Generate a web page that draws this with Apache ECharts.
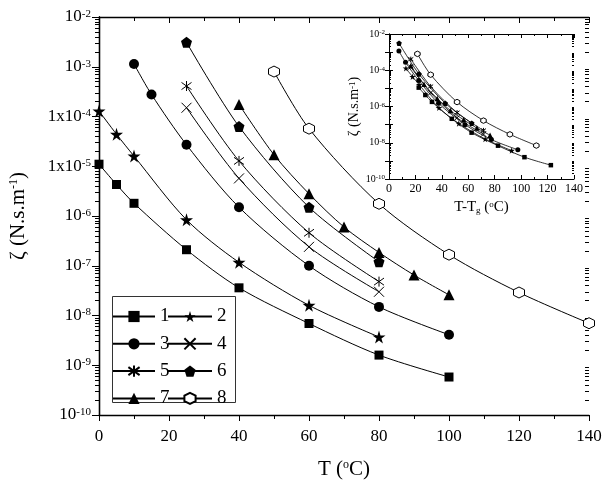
<!DOCTYPE html>
<html><head><meta charset="utf-8">
<script src="https://cdn.jsdelivr.net/npm/echarts@6/dist/echarts.min.js"></script>
<style>html,body{margin:0;padding:0;background:#fff}#c{width:607px;height:486px}</style>
</head><body><div id="c"></div>
<script>
// ---------- data ----------
const seriesNames = ['1','2','3','4','5','6','7','8'];
const temp1 = [0, 5, 10, 25, 40, 60, 80, 100];
const zeta1 = [1.1e-5, 4.3e-6, 1.8e-6, 2.1e-7, 3.6e-8, 6.9e-9, 1.6e-9, 5.8e-10];
const temp2 = [0, 5, 10, 25, 40, 60, 80];
const zeta2 = [1.29e-4, 4.4e-5, 1.6e-5, 8.4e-7, 1.17e-7, 1.6e-8, 3.7e-9];
const temp3 = [10, 15, 25, 40, 60, 80, 100];
const zeta3 = [1.14e-3, 2.77e-4, 2.7e-5, 1.5e-6, 1.0e-7, 1.49e-8, 4.1e-9];
const temp4 = [25, 40, 60, 80];
const zeta4 = [1.5e-4, 5.7e-6, 2.4e-7, 3.0e-8];
const temp5 = [25, 40, 60, 80];
const zeta5 = [4.1e-4, 1.28e-5, 4.6e-7, 4.8e-8];
const temp6 = [25, 40, 60, 80];
const zeta6 = [3.1e-3, 6.3e-5, 1.5e-6, 1.2e-7];
const temp7 = [40, 50, 60, 70, 80, 90, 100];
const zeta7 = [1.75e-4, 1.7e-5, 2.8e-6, 6.0e-7, 1.85e-7, 6.5e-8, 2.6e-8];
const temp8 = [50, 60, 80, 100, 120, 140];
const zeta8 = [8.0e-4, 5.7e-5, 1.76e-6, 1.67e-7, 2.9e-8, 7.0e-9];
// glass temperature of each sample (inset abscissa is T - Tg)
const glassTg = [-22.5, -12.8, 2.5, 8.5, 8.5, 17.4, 23.5, 28.5];

const xTickLabels = ['0','20','40','60','80','100','120','140'];
const yTickLabels = ['10{s|-10}','10{s|-9}','10{s|-8}','10{s|-7}','10{s|-6}','1x10{s|-5}','1x10{s|-4}','10{s|-3}','10{s|-2}'];
const insetYTickLabels = ['10{s|-10}','10{s|-8}','10{s|-6}','10{s|-4}','10{s|-2}'];

const temps = [temp1,temp2,temp3,temp4,temp5,temp6,temp7,temp8];
const zetas = [zeta1,zeta2,zeta3,zeta4,zeta5,zeta6,zeta7,zeta8];

// ---------- styles ----------
const FF = "'Liberation Serif','Times New Roman',serif";
const STAR = 'path://M50,0 L61,35 L98,35 L68,57 L79,91 L50,70 L21,91 L32,57 L2,35 L39,35 Z';
const PENT = 'path://M50,0 L100,38 L81,100 L19,100 L0,38 Z';
const HEX = 'path://M50,0 L93,25 L93,75 L50,100 L7,75 L7,25 Z';
const XS = 'path://M0,0 L100,100 M100,0 L0,100';
const AST = 'path://M0,0 L100,100 M100,0 L0,100 M50,-20 L50,120';
const sym = [
  {symbol:'rect', size:9, item:{color:'#000'}},
  {symbol:STAR, size:13, item:{color:'#000'}},
  {symbol:'circle', size:10, item:{color:'#000'}},
  {symbol:XS, size:10, item:{color:'rgba(0,0,0,0)', borderColor:'#000', borderWidth:1}},
  {symbol:AST, size:10, item:{color:'rgba(0,0,0,0)', borderColor:'#000', borderWidth:1}},
  {symbol:PENT, size:11, item:{color:'#000'}},
  {symbol:'triangle', size:11, item:{color:'#000'}},
  {symbol:HEX, size:11, item:{color:'#fff', borderColor:'#000', borderWidth:1}}
];

// minor tick positions (in decades) for the log scale decoration axes
const minorExp = [];
for (let e = -10; e < -2; e++) for (let m = 2; m <= 9; m++) minorExp.push(+(e + Math.log10(m)).toFixed(4));

const series = [];
for (let i = 0; i < 8; i++) {
  series.push({
    name: seriesNames[i], type: 'line', xAxisIndex: 0, yAxisIndex: 0,
    data: temps[i].map((t, k) => [t, zetas[i][k]]),
    smooth: 0.3,
    symbol: sym[i].symbol, symbolSize: sym[i].size, itemStyle: sym[i].item,
    lineStyle: {color: '#000', width: 1}, emphasis: {disabled: true}, z: 3
  });
}
for (let i = 0; i < 8; i++) {
  series.push({
    name: seriesNames[i], type: 'line', xAxisIndex: 2, yAxisIndex: 4,
    data: temps[i].map((t, k) => [t - glassTg[i], zetas[i][k]]),
    smooth: 0.3,
    symbol: sym[i].symbol, symbolSize: Math.max(4, sym[i].size * 0.5), itemStyle: sym[i].item,
    lineStyle: {color: '#000', width: 0.8}, emphasis: {disabled: true}, z: 3
  });
}

const lbl = (size) => ({fontFamily: FF, fontSize: size, color: '#000'});
const supRich = (size) => ({s: {fontFamily: FF, fontSize: size, color: '#000', verticalAlign: 'top', lineHeight: size + 1}});

function logAxis(extra) {
  return Object.assign({
    type: 'log', logBase: 10, min: 1e-10, max: 1e-2, splitNumber: 8,
    splitLine: {show: false}, minorSplitLine: {show: false},
    axisLine: {show: true, lineStyle: {color: '#000', width: 1.3}},
    axisLabel: {show: false}
  }, extra);
}
function minorAxis(extra) {
  return Object.assign({
    type: 'value', min: -10, max: -2, interval: 1,
    splitLine: {show: false},
    axisLine: {show: true, onZero: false, lineStyle: {color: 'rgba(0,0,0,0)', width: 1}},
    axisLabel: {show: false}
  }, extra);
}
function linAxis(extra) {
  return Object.assign({
    type: 'value', min: 0, max: 140, interval: 20,
    splitLine: {show: false},
    axisLine: {show: true, onZero: false, lineStyle: {color: '#000', width: 1.3}},
    axisLabel: {show: false},
    minorTick: {show: true, splitNumber: 2, length: 3, lineStyle: {color: '#000'}}
  }, extra);
}

const option = {
  backgroundColor: '#fff',
  animation: false,
  grid: [
    {left: 99, top: 17, width: 490, height: 398, outerBoundsMode: 'none'},
    {left: 389, top: 34, width: 185, height: 145, outerBoundsMode: 'none'}
  ],
  xAxis: [
    linAxis({gridIndex: 0, position: 'bottom',
      axisTick: {length: 6, lineStyle: {color: '#000', width: 1}},
      minorTick: {show: true, splitNumber: 2, length: 4, lineStyle: {color: '#000'}},
      axisLabel: {show: true, margin: 13, ...lbl(17), formatter: (v) => xTickLabels[Math.round(v / 20)]},
      name: 'T ({s|o}C)', nameLocation: 'middle', nameGap: 44,
      nameTextStyle: {...lbl(21), rich: supRich(12)}}),
    linAxis({gridIndex: 0, position: 'top',
      axisTick: {inside: true, length: 6, lineStyle: {color: '#000'}},
      minorTick: {show: true, splitNumber: 2, length: 4, lineStyle: {color: '#000'}}}),
    linAxis({gridIndex: 1, position: 'bottom',
      axisLine: {show: true, onZero: false, lineStyle: {color: '#000', width: 1}},
      axisTick: {inside: true, length: 4, lineStyle: {color: '#000'}},
      minorTick: {show: true, splitNumber: 2, length: 2, lineStyle: {color: '#000'}},
      axisLabel: {show: true, margin: 4, ...lbl(12), formatter: (v) => xTickLabels[Math.round(v / 20)]},
      name: 'T-T{g|g} ({s|o}C)', nameLocation: 'middle', nameGap: 21,
      nameTextStyle: {...lbl(15), rich: {...supRich(9), g: {fontFamily: FF, fontSize: 9, color: '#000', verticalAlign: 'bottom', lineHeight: 10}}}}),
    linAxis({gridIndex: 1, position: 'top',
      axisLine: {show: true, onZero: false, lineStyle: {color: '#000', width: 1}},
      axisTick: {inside: true, length: 4, lineStyle: {color: '#000'}},
      minorTick: {show: true, splitNumber: 2, length: 2, lineStyle: {color: '#000'}}})
  ],
  yAxis: [
    logAxis({gridIndex: 0, position: 'left',
      axisTick: {show: true, length: 7, lineStyle: {color: '#000', width: 1}},
      minorTick: {show: true, splitNumber: 9, length: 4, lineStyle: {color: '#000', width: 1}},
      axisLabel: {show: true, margin: 8, ...lbl(17),
        formatter: (v) => yTickLabels[Math.round(Math.log10(v)) + 10] || '',
        rich: supRich(11)},
      name: 'ζ (N.s.m{s|-1})', nameLocation: 'middle', nameGap: 70, nameRotate: 90,
      nameTextStyle: {...lbl(21), rich: supRich(12)}}),
    minorAxis({gridIndex: 0, position: 'left',
      axisTick: {show: true, inside: false, length: 4, customValues: minorExp, lineStyle: {color: '#000', width: 1}}}),
    logAxis({gridIndex: 0, position: 'right',
      axisTick: {show: true, inside: true, length: 7, lineStyle: {color: '#000'}}}),
    minorAxis({gridIndex: 0, position: 'right',
      axisTick: {show: true, inside: false, length: -4, customValues: minorExp, lineStyle: {color: '#000', width: 1}}}),
    logAxis({gridIndex: 1, position: 'left',
      axisLine: {show: true, lineStyle: {color: '#000', width: 1}},
      axisTick: {show: true, inside: true, length: 4, lineStyle: {color: '#000'}},
      axisLabel: {show: true, margin: 4, ...lbl(10),
        formatter: (v) => { const e = Math.round(Math.log10(v)); return (e % 2 === 0) ? insetYTickLabels[(e + 10) / 2] : ''; },
        rich: supRich(7)},
      name: 'ζ (N.s.m{s|-1})', nameLocation: 'middle', nameGap: 22, nameRotate: 90,
      nameTextStyle: {...lbl(14), rich: supRich(9)}}),
    minorAxis({gridIndex: 1, position: 'left',
      axisTick: {show: true, inside: true, length: 2, customValues: minorExp, lineStyle: {color: '#000'}}}),
    logAxis({gridIndex: 1, position: 'right',
      axisLine: {show: true, lineStyle: {color: '#000', width: 1}},
      axisTick: {show: true, inside: true, length: 4, lineStyle: {color: '#000'}}}),
    minorAxis({gridIndex: 1, position: 'right',
      axisTick: {show: true, inside: true, length: 2, customValues: minorExp, lineStyle: {color: '#000'}}})
  ],
  legend: [
    {data: ['1','3','5','7'], orient: 'vertical', left: 112, top: 307, padding: 0,
     itemWidth: 42, itemHeight: 14, itemGap: 8.3,
     textStyle: {...lbl(19), lineHeight: 14}, selectedMode: false},
    {data: ['2','4','6','8'], orient: 'vertical', left: 167, top: 307, padding: 0,
     itemWidth: 44, itemHeight: 14, itemGap: 8.3,
     textStyle: {...lbl(19), lineHeight: 14}, selectedMode: false}
  ],
  graphic: [
    {type: 'rect', left: 110, top: 294, z: 1,
     shape: {width: 123, height: 106}, style: {fill: 'none', stroke: '#333', lineWidth: 1}}
  ],
  series: series
};
const chart = echarts.init(document.getElementById('c'), null, {renderer: 'canvas'});
chart.setOption(option);
</script></body></html>
